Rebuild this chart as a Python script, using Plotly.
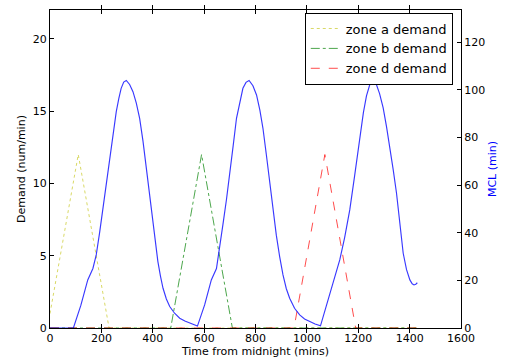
import plotly.graph_objects as go

# Demand series (num/min)
zone_a_x = [0, 110, 230, 1430]
zone_a_y = [1.0, 12.0, 0.0, 0.0]
zone_b_x = [0, 470, 590, 710, 1430]
zone_b_y = [0.0, 0.0, 12.0, 0.0, 0.0]
zone_d_x = [0, 950, 1070, 1190, 1430]
zone_d_y = [0.0, 0.0, 12.0, 0.0, 0.0]

# MCL series (min)
mcl_x = [0, 91, 120, 147, 167, 180, 193, 206, 219, 232, 245, 258, 268, 277, 287, 297,
         310, 323, 336, 349, 362, 375, 388, 401, 420, 430, 440, 453, 466, 485, 505, 525,
         544, 560, 574,
         602, 628, 648, 660, 673, 687, 700, 713, 726, 739, 751, 763, 775, 790, 804, 817,
         829, 842, 855, 868, 881, 894, 907, 920, 933, 952, 972, 991, 1011, 1032, 1053,
         1078, 1104, 1115, 1128, 1147, 1167, 1186, 1206, 1220, 1232, 1245, 1256, 1270,
         1283, 1297, 1310, 1323, 1336, 1349, 1362, 1375, 1388, 1401, 1410, 1417, 1424, 1430]
mcl_y = [0, 0, 9.5, 20.2, 25, 30.7, 40, 50.3, 61, 71.3, 81.5, 90.9, 96.5, 100.7, 103.3, 104,
         102.3, 99.3, 94.5, 88.1, 78.5, 67.1, 55.5, 44.7, 27.9, 21.8, 16.7, 12.2, 9, 6.2, 4.1, 2.9,
         2.0, 1.3, 0.8,
         9.7, 20.2, 25, 33, 43.3, 54, 64.3, 76.5, 88.1, 95.5, 100.7, 103.2, 104, 101.8, 97.9, 91.5,
         83.9, 73, 61.5, 50, 39, 30, 22.3, 16.5, 12.5, 8.3, 5.5, 3.8, 2.7, 1.7, 0.9,
         10, 20.2, 24, 28.6, 38, 49.6, 64, 80.4, 90.5, 97.5, 102.3, 104, 102.5,
         98.5, 92.5, 84.6, 76, 66.5, 56.6, 43.5, 31.4, 24.5, 20.2, 18.6, 18.1, 18.4, 19]

x_ticks = [0, 200, 400, 600, 800, 1000, 1200, 1400, 1600]
y_ticks = [0, 5, 10, 15, 20]
y2_ticks = [0, 20, 40, 60, 80, 100, 120]

FONT = "DejaVu Sans"

fig = go.Figure()
fig.add_trace(go.Scatter(x=zone_a_x, y=zone_a_y, mode="lines", name="zone a demand",
                         line=dict(color="rgba(191,191,0,0.6)", width=1, dash="dot")))
fig.add_trace(go.Scatter(x=zone_b_x, y=zone_b_y, mode="lines", name="zone b demand",
                         line=dict(color="rgba(0,128,0,0.7)", width=1, dash="dashdot")))
fig.add_trace(go.Scatter(x=zone_d_x, y=zone_d_y, mode="lines", name="zone d demand",
                         line=dict(color="rgba(255,0,0,0.7)", width=1, dash="dash")))
fig.add_trace(go.Scatter(x=mcl_x, y=mcl_y, mode="lines", name="MCL", yaxis="y2",
                         showlegend=False,
                         line=dict(color="rgba(0,0,255,0.78)", width=1.15)))

axis_common = dict(showline=True, linecolor="black", linewidth=1, ticks="inside",
                   ticklen=4, tickcolor="black", showgrid=False, zeroline=False,
                   tickfont=dict(family=FONT, size=11, color="black"))

fig.update_layout(
    width=511, height=360,
    margin=dict(l=50, r=50, t=10, b=32, autoexpand=False),
    paper_bgcolor="white", plot_bgcolor="white",
    font=dict(family=FONT, size=11, color="black"),
    xaxis=dict(range=[0, 1600], tickvals=x_ticks, mirror="allticks",
               title=dict(text="Time from midnight (mins)", standoff=3,
                          font=dict(family=FONT, size=11, color="black")),
               automargin=False, **axis_common),
    yaxis=dict(range=[0, 22], tickvals=y_ticks,
               title=dict(text="Demand (num/min)", standoff=4,
                          font=dict(family=FONT, size=11, color="black")),
               automargin=False, **axis_common),
    yaxis2=dict(range=[0, 133.6], tickvals=y2_ticks, overlaying="y", side="right",
                title=dict(text="MCL (min)", standoff=4,
                           font=dict(family=FONT, size=11, color="blue")),
                automargin=False, **axis_common),
    legend=dict(x=0.98, y=0.992, xanchor="right", yanchor="top",
                bordercolor="black", borderwidth=1, bgcolor="white",
                font=dict(family=FONT, size=13, color="black"),
                tracegroupgap=0),
    showlegend=True,
)

fig.write_html("out.html", config={"displayModeBar": False},
               post_script="document.body.style.margin='0';")
